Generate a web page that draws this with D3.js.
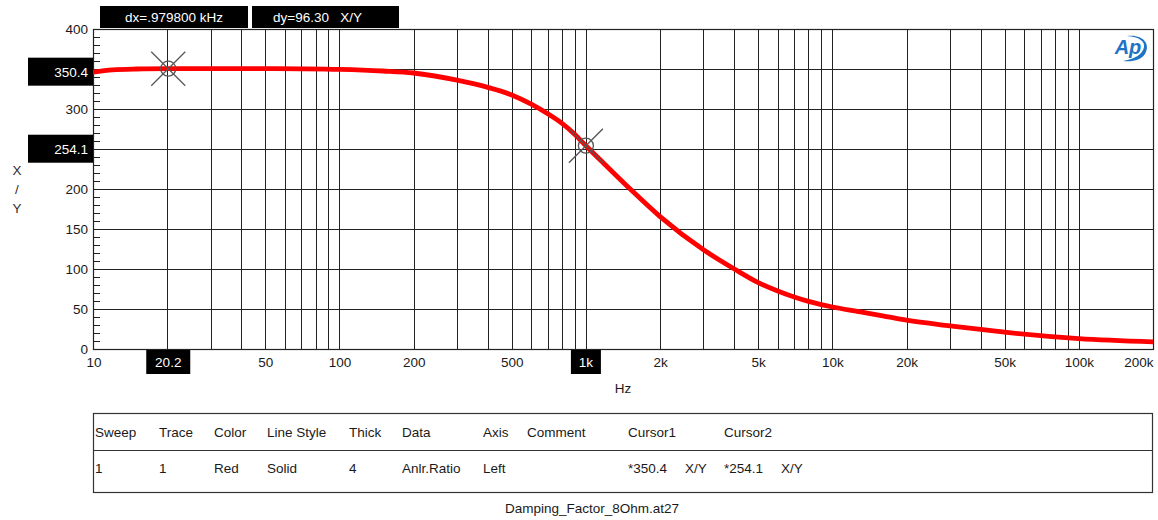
<!DOCTYPE html>
<head>
<meta charset="utf-8">
<title>Damping Factor 8 Ohm</title>
<script type="text/javascript" src="https://d3js.org/d3.v7.min.js"></script>
<style>
  body { margin: 0; background: #fff; }
  svg text { font-family: "Liberation Sans", Arial, sans-serif; fill: #1a1a1a; }
</style>
</head>
<body>
<div id="container"></div>

<script>

//------------------------1. DATA------------------------------//
const freqs = [10, 12, 15, 20, 30, 50, 70, 100, 150, 200, 300, 400, 500, 600, 700, 800, 900,
               1000, 1200, 1500, 2000, 3000, 4000, 5000, 6000, 7000, 8000, 9000, 10000, 13000, 16000,
               20000, 30000, 40000, 50000, 100000, 200000];
const ratio = [346, 349, 350, 350.4, 350.5, 350.5, 350.2, 349.5, 347.5, 345, 336, 327, 317.5, 306, 294, 282, 268.5,
               254.1, 230, 201, 165.5, 124, 100, 83, 72.5, 65, 59.5, 55.5, 52.5, 46.5, 41.5,
               36, 29, 24.5, 21, 13, 9];

const xTickVals = [10, 20, 50, 100, 200, 500, 1000, 2000, 5000, 10000, 20000, 50000, 100000, 200000];
const xTickText = ["10", "20", "50", "100", "200", "500", "1k", "2k", "5k", "10k", "20k", "50k", "100k", "200k"];
const yTickVals = [0, 50, 100, 150, 200, 250, 300, 350, 400];

const cursorFreq = [20.2, 1000];
const cursorVal = [350.4, 254.1];
const cursorFreqText = ["20.2", "1k"];
const cursorValText = ["350.4", "254.1"];

const tableHead = ["Sweep", "Trace", "Color", "Line Style", "Thick", "Data", "Axis", "Comment", "Cursor1", "", "Cursor2", ""];
const tableRow = ["1", "1", "Red", "Solid", "4", "Anlr.Ratio", "Left", "", "*350.4", "X/Y", "*254.1", "X/Y"];
const tableCols = [95, 159, 214, 267, 349, 402, 483, 527, 628, 685, 724, 781];

//------------------------2. SVG-------------------------------//
const W = 1158, H = 520;
const plotL = 93, plotR = 1153, plotT = 29, plotB = 349;

const svg = d3.select("div#container").append("svg")
    .attr("width", W)
    .attr("height", H);

const xScale = d3.scaleLog().domain([10, 200000]).range([plotL, plotR]);
const yScale = d3.scaleLinear().domain([0, 400]).range([plotB, plotT]);

//------------------------3. GRID------------------------------//
// vertical lines at 1..9 of each decade
const vGrid = [];
for (let dec = 10; dec <= 100000; dec *= 10) {
    for (let m = 1; m < 10; m++) {
        const f = dec * m;
        if (f > 10 && f < 200000) vGrid.push(f);
    }
}
svg.append("g").selectAll("line")
    .data(vGrid)
    .enter().append("line")
    .attr("x1", d => Math.round(xScale(d)) + 0.5)
    .attr("x2", d => Math.round(xScale(d)) + 0.5)
    .attr("y1", plotT).attr("y2", plotB)
    .attr("stroke", "#222").attr("stroke-width", 1);

svg.append("g").selectAll("line")
    .data(yTickVals.slice(1, -1))
    .enter().append("line")
    .attr("x1", plotL).attr("x2", plotR)
    .attr("y1", d => Math.round(yScale(d)) + 0.5)
    .attr("y2", d => Math.round(yScale(d)) + 0.5)
    .attr("stroke", "#222").attr("stroke-width", 1);

// minor ticks on left axis, pointing in
svg.append("g").selectAll("line")
    .data(d3.range(10, 400, 10).filter(d => d % 50 !== 0))
    .enter().append("line")
    .attr("x1", plotL).attr("x2", plotL + 7)
    .attr("y1", d => Math.round(yScale(d)) + 0.5)
    .attr("y2", d => Math.round(yScale(d)) + 0.5)
    .attr("stroke", "#222");

svg.append("rect")
    .attr("x", plotL + 0.5).attr("y", plotT + 0.5)
    .attr("width", plotR - plotL).attr("height", plotB - plotT)
    .attr("fill", "none").attr("stroke", "#222").attr("stroke-width", 1.2);

//------------------------4. AXES------------------------------//
// labels hidden under the cursor readouts are left out
const yShown = yTickVals.filter(v => !cursorVal.some(c => Math.abs(c - v) < 10));
const yAxis = d3.axisLeft(yScale).tickValues(yShown).tickSize(0).tickPadding(5);
const gy = svg.append("g").attr("transform", "translate(" + plotL + ",0)").call(yAxis);
gy.select(".domain").remove();
gy.selectAll("text").style("font-size", "13.5px").attr("dy", "0.36em").attr("fill", "#1a1a1a");

const xShown = xTickVals.filter(v => !cursorFreq.some(c => Math.abs(Math.log10(c / v)) < 0.05));
const xAxis = d3.axisBottom(xScale).tickValues(xShown)
    .tickFormat(d => xTickText[xTickVals.indexOf(d)]).tickSize(0).tickPadding(8);
const gx = svg.append("g").attr("transform", "translate(0," + plotB + ")").call(xAxis);
gx.select(".domain").remove();
gx.selectAll("text").style("font-size", "13.5px").attr("fill", "#1a1a1a")
    .attr("text-anchor", d => d === 200000 ? "end" : (d === 10 ? "start" : "middle"))
    .attr("dx", d => d === 10 ? "-7" : "0");

svg.append("text").attr("x", 623).attr("y", 393)
    .attr("text-anchor", "middle").style("font-size", "13.5px").text("Hz");

["X", "/", "Y"].forEach(function (t, i) {
    svg.append("text").attr("x", 17).attr("y", 175 + i * 19)
        .attr("text-anchor", "middle").style("font-size", "13.5px")
        .style("fill", "#3a2a2a").text(t);
});

//------------------------5. TRACE-----------------------------//
const line = d3.line()
    .x((d, i) => xScale(freqs[i]))
    .y(d => yScale(d))
    .curve(d3.curveMonotoneX);

svg.append("path")
    .datum(ratio)
    .attr("d", line)
    .attr("fill", "none")
    .attr("stroke", "#ff0000")
    .attr("stroke-width", 4.8);

//------------------------6. CURSORS---------------------------//
cursorFreq.forEach(function (f, i) {
    const cx = xScale(f), cy = yScale(cursorVal[i]);
    const g = svg.append("g").attr("stroke", "#555").attr("stroke-width", 1.3).attr("fill", "none");
    g.append("circle").attr("cx", cx).attr("cy", cy).attr("r", 7.5);
    g.append("line").attr("x1", cx - 17).attr("y1", cy - 17).attr("x2", cx + 17).attr("y2", cy + 17);
    g.append("line").attr("x1", cx - 17).attr("y1", cy + 17).attr("x2", cx + 17).attr("y2", cy - 17);

    // value box on left
    svg.append("rect").attr("x", 28).attr("y", cy - 11).attr("width", 65).attr("height", 28).attr("fill", "#000");
    svg.append("text").attr("x", 88).attr("y", cy + 3).attr("dy", "0.36em")
        .attr("text-anchor", "end").style("font-size", "13.5px").style("fill", "#fff").text(cursorValText[i]);

    // freq box below
    const bw = cursorFreqText[i].length > 2 ? 44 : 30;
    svg.append("rect").attr("x", cx - bw / 2).attr("y", plotB + 1).attr("width", bw).attr("height", 24).attr("fill", "#000");
    svg.append("text").attr("x", cx).attr("y", plotB + 13).attr("dy", "0.36em")
        .attr("text-anchor", "middle").style("font-size", "13.5px").style("fill", "#fff").text(cursorFreqText[i]);
});

// delta boxes
svg.append("rect").attr("x", 100).attr("y", 6).attr("width", 148).attr("height", 22).attr("fill", "#000");
svg.append("text").attr("x", 174).attr("y", 17).attr("dy", "0.36em").attr("text-anchor", "middle")
    .style("font-size", "13.5px").style("fill", "#fff").text("dx=.979800 kHz");
svg.append("rect").attr("x", 252).attr("y", 6).attr("width", 147).attr("height", 22).attr("fill", "#000");
svg.append("text").attr("x", 273).attr("y", 17).attr("dy", "0.36em")
    .style("font-size", "13.5px").style("fill", "#fff").attr("xml:space", "preserve").text("dy=96.30   X/Y");

//------------------------7. LOGO------------------------------//
const logo = svg.append("g").attr("transform", "translate(1131,48)");
logo.append("path")
    .attr("d", "M -4,-12 C 12,-14 20,-4 14,6 C 10,12 2,14 -8,13 C 4,11 12,6 13,-1 C 14,-7 8,-11 -4,-12 Z")
    .attr("fill", "#1f73c4");
logo.append("text").attr("x", -3).attr("y", 6).attr("text-anchor", "middle")
    .style("font-size", "20px").style("font-style", "italic").style("font-weight", "bold")
    .style("fill", "#1f73c4").text("Ap");

//------------------------8. TABLE-----------------------------//
svg.append("rect").attr("x", 93.5).attr("y", 413.5).attr("width", 1059).attr("height", 79)
    .attr("fill", "none").attr("stroke", "#333").attr("stroke-width", 1.2);
svg.append("line").attr("x1", 93).attr("x2", 1153).attr("y1", 450.5).attr("y2", 450.5)
    .attr("stroke", "#333").attr("stroke-width", 1.2);

svg.append("g").selectAll("text").data(tableHead).enter().append("text")
    .attr("x", (d, i) => tableCols[i]).attr("y", 432).attr("dy", "0.36em")
    .style("font-size", "13.5px").text(d => d);
svg.append("g").selectAll("text").data(tableRow).enter().append("text")
    .attr("x", (d, i) => tableCols[i]).attr("y", 468).attr("dy", "0.36em")
    .style("font-size", "13.5px").text(d => d);

svg.append("text").attr("x", 592).attr("y", 508).attr("dy", "0.36em").attr("text-anchor", "middle")
    .style("font-size", "13.5px").text("Damping_Factor_8Ohm.at27");

</script>
</body>
